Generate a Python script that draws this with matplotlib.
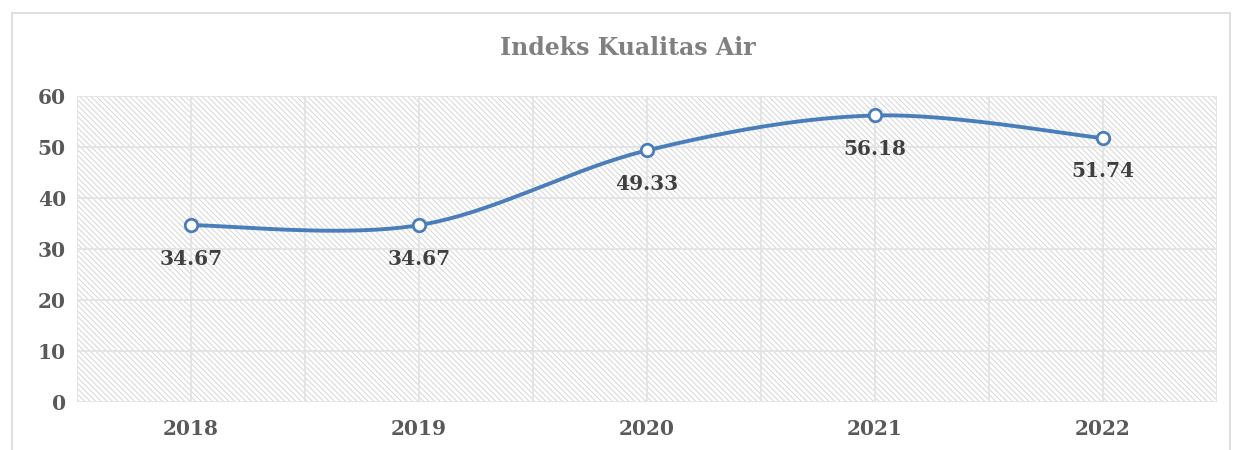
import numpy as np
import matplotlib.pyplot as plt
from matplotlib.patches import Rectangle

years = ['2018', '2019', '2020', '2021', '2022']
ika = [34.67, 34.67, 49.33, 56.18, 51.74]
title = 'Indeks Kualitas Air'

blue = '#4a7ebb'
grid_c = '#e3e3e3'

plt.rcParams['font.family'] = ['DejaVu Serif']
plt.rcParams['hatch.linewidth'] = 0.7
plt.rcParams['hatch.color'] = '#d6d6d6'


def smooth(x, y, n=40):
    # catmull-rom style smoothing, like the excel "smoothed line"
    x = np.asarray(x, float)
    y = np.asarray(y, float)
    px = np.concatenate([[x[0]], x, [x[-1]]])
    py = np.concatenate([[y[0]], y, [y[-1]]])
    xs, ys = [], []
    t = np.linspace(0, 1, n)
    for i in range(1, len(px) - 2):
        p0, p1, p2, p3 = [np.array([px[j], py[j]]) for j in range(i - 1, i + 3)]
        c1 = p1 + (p2 - p0) / 6
        c2 = p2 - (p3 - p1) / 6
        b = ((1 - t) ** 3)[:, None] * p1 + (3 * (1 - t) ** 2 * t)[:, None] * c1 \
            + (3 * (1 - t) * t ** 2)[:, None] * c2 + (t ** 3)[:, None] * p2
        xs.extend(b[:, 0])
        ys.extend(b[:, 1])
    return np.array(xs), np.array(ys)


fig = plt.figure(figsize=(12.33, 4.5), dpi=100)
fig.patches.append(Rectangle((12 / 1233, -0.1), 1218 / 1233, 1.1 - 13 / 450,
                             transform=fig.transFigure, fill=False,
                             edgecolor='#d9d9d9', linewidth=1.2))
ax = fig.add_axes([77 / 1233, 1 - 402 / 450, (1217 - 77) / 1233, (402 - 96) / 450])

x = np.arange(len(years))
ax.set_xlim(-0.5, len(years) - 0.5)
ax.set_ylim(0, 60)

ax.add_patch(Rectangle((0, 0), 1, 1, transform=ax.transAxes, facecolor='white',
                       hatch='\\' * 6, edgecolor='#d6d6d6', linewidth=0, zorder=0))

for v in range(0, 61, 10):
    ax.axhline(v, color=grid_c, linewidth=1.3, zorder=1)
for v in np.arange(-0.5, len(years), 0.5):
    ax.axvline(v, color=grid_c, linewidth=1.3, zorder=1)

sx, sy = smooth(x, ika)
ax.plot(sx, sy, color=blue, linewidth=2.8, zorder=3, solid_capstyle='round')
ax.plot(x, ika, 'o', markersize=9, markerfacecolor='white',
        markeredgecolor=blue, markeredgewidth=2, zorder=4)

for xi, v in zip(x, ika):
    ax.annotate(f'{v:.2f}', (xi, v), xytext=(0, -24), textcoords='offset points',
                ha='center', va='center', fontsize=14.5, fontweight='bold',
                color='#404040', zorder=5)

ax.set_xticks(x)
ax.set_xticklabels(years)
ax.set_yticks(range(0, 61, 10))
ax.tick_params(length=0, labelsize=14.5, labelcolor='#595959', pad=8)
ax.tick_params(axis='x', pad=12)
for lab in ax.get_xticklabels() + ax.get_yticklabels():
    lab.set_fontweight('bold')
for s in ax.spines.values():
    s.set_visible(False)

fig.text(628 / 1233, 1 - 48 / 450, title, ha='center', va='center',
         fontsize=17, fontweight='bold', color='#808080')

fig.savefig('out.png', dpi=100)
